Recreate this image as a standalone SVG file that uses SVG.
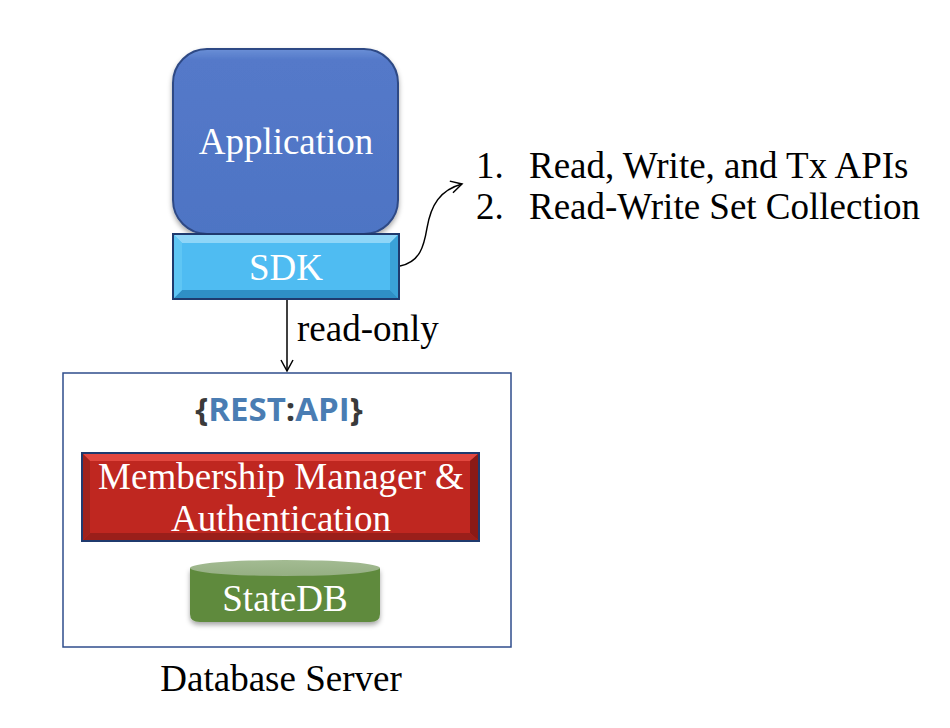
<svg xmlns="http://www.w3.org/2000/svg" width="950" height="728" viewBox="0 0 950 728">
<defs>
<style>
.t{font-family:"Liberation Serif","Times New Roman",serif;font-size:37px}
.w{fill:#fff}
.k{fill:#000}
.ln{fill:none;stroke:#000;stroke-width:1.5}
</style>
<linearGradient id="appG" x1="0" y1="0" x2="0" y2="1">
<stop offset="0" stop-color="#6a8fd6"/><stop offset="0.06" stop-color="#5479c9"/><stop offset="1" stop-color="#4e74c4"/>
</linearGradient>
<linearGradient id="dbTop" x1="0" y1="0" x2="0" y2="1">
<stop offset="0" stop-color="#a3bb92"/><stop offset="1" stop-color="#95af83"/>
</linearGradient>
<filter id="sh" x="-10%" y="-10%" width="120%" height="130%">
<feDropShadow dx="0" dy="3" stdDeviation="2.5" flood-color="#000" flood-opacity="0.35"/>
</filter>
<marker id="arr" viewBox="0 0 14 14" refX="12" refY="7" markerWidth="14" markerHeight="14" markerUnits="userSpaceOnUse" orient="auto">
<path d="M1,1 L12,7 L1,13" fill="none" stroke="#000" stroke-width="1.5"/>
</marker>
</defs>
<rect width="950" height="728" fill="#fff"/>

<g id="connectors">
<path class="ln" d="M400,266 C420,262 424,246 427,228 C431,205 440,190 462,184" marker-end="url(#arr)"/>
<path class="ln" d="M287,299 L287,371" marker-end="url(#arr)"/>
</g>

<g id="application">
<rect x="173" y="49" width="225" height="185" rx="34" fill="url(#appG)" stroke="#2e4a85" stroke-width="2" filter="url(#sh)"/>
<text class="t w" x="286" y="154" text-anchor="middle">Application</text>
</g>

<g id="sdk">
<rect x="173" y="234" width="226" height="65" fill="#4fbcf2" stroke="#1f3a6e" stroke-width="2"/>
<polygon points="174,235 398,235 390,243 182,243" fill="#8fd6f8"/>
<polygon points="398,235 398,298 390,290 390,243" fill="#3aa2d8"/>
<polygon points="174,298 398,298 390,290 182,290" fill="#2f8fc6"/>
<polygon points="174,235 182,243 182,290 174,298" fill="#5fc6f4"/>
<text class="t w" x="286" y="280" text-anchor="middle">SDK</text>
</g>

<g id="api-list">
<text class="t k" x="476" y="178">1.</text>
<text class="t k" x="529" y="178">Read, Write, and Tx APIs</text>
<text class="t k" x="476" y="219">2.</text>
<text class="t k" x="529" y="219">Read-Write Set Collection</text>
</g>

<g id="read-only-label">
<text class="t k" x="297" y="341">read-only</text>
</g>

<g id="database-server">
<rect x="63" y="373" width="448" height="274" fill="#fff" stroke="#2f4d8c" stroke-width="1.5"/>
<text x="279" y="421" text-anchor="middle" font-family="'Open Sans','DejaVu Sans',sans-serif" font-weight="700" font-size="33"><tspan fill="#3a3a3a">{</tspan><tspan fill="#4a7db3">REST</tspan><tspan fill="#3a3a3a">:</tspan><tspan fill="#4a7db3">API</tspan><tspan fill="#3a3a3a">}</tspan></text>
<text class="t k" x="281" y="691" text-anchor="middle">Database Server</text>
</g>

<g id="membership">
<rect x="82" y="453" width="397" height="88" fill="#bf2720" stroke="#1f3a6e" stroke-width="2"/>
<polygon points="83,454 478,454 470,461 90,461" fill="#e2473f"/>
<polygon points="478,454 478,540 470,533 470,461" fill="#8a1a16"/>
<polygon points="83,540 478,540 470,533 90,533" fill="#9a1f1a"/>
<polygon points="83,454 90,461 90,533 83,540" fill="#a0221c"/>
<text class="t w" x="281" y="489" text-anchor="middle">Membership Manager &amp;</text>
<text class="t w" x="281" y="531" text-anchor="middle">Authentication</text>
</g>

<g id="statedb">
<path d="M190,568 L190,614 Q190,622 200,622 L370,622 Q380,622 380,614 L380,568 Z" fill="#5e8a3e" filter="url(#sh)"/>
<ellipse cx="285" cy="568" rx="95" ry="8" fill="url(#dbTop)"/>
<text class="t w" x="285" y="611" text-anchor="middle">StateDB</text>
</g>
</svg>
